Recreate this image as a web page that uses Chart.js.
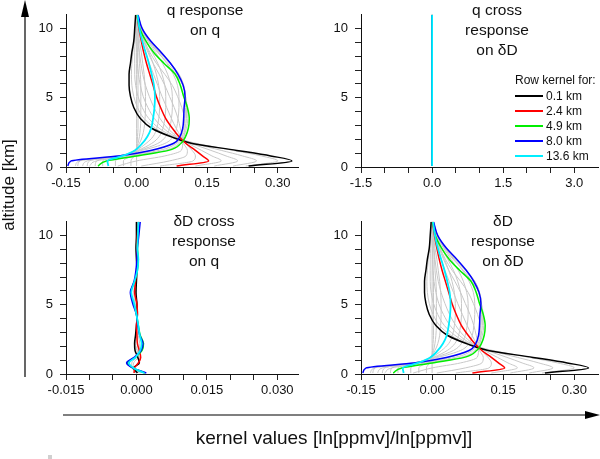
<!DOCTYPE html>
<html>
<head>
<meta charset="utf-8">
<script src="https://cdn.jsdelivr.net/npm/chart.js@4"></script>
<style>
  body { margin: 0; background: #fff; font-family: "Liberation Sans", Arial, sans-serif; }
  #page { position: relative; width: 600px; height: 459px; overflow: hidden; }
  canvas { position: absolute; }
  .title { position: absolute; width: 140px; text-align: center; font-size: 15.5px; line-height: 20px; color: #111; }
  .leg { position: absolute; font-size: 12px; line-height: 14px; color: #111; white-space: nowrap; }
  .legline { position: absolute; width: 28px; }
</style>
</head>
<body>
<div id="page">
  <canvas id="c1" width="294" height="197" style="left:6px;top:0px"></canvas>
  <canvas id="c2" width="299" height="197" style="left:301px;top:0px"></canvas>
  <canvas id="c3" width="294" height="197" style="left:6px;top:207px"></canvas>
  <canvas id="c4" width="299" height="197" style="left:301px;top:207px"></canvas>

  <div class="title" style="left:135px;top:0px">q response<br>on q</div>
  <div class="title" style="left:427px;top:0px">q cross<br>response<br>on δD</div>
  <div class="title" style="left:134px;top:211px">δD cross<br>response<br>on q</div>
  <div class="title" style="left:433px;top:211px">δD<br>response<br>on δD</div>

  <div id="legend"></div>

  <svg width="600" height="459" style="position:absolute;left:0;top:0">
    <line x1="25" y1="377" x2="25" y2="14" stroke="#000" stroke-width="1.2"/>
    <polygon points="25,0 21,17 29,17" fill="#000"/>
    <line x1="63" y1="415" x2="588" y2="415" stroke="#000" stroke-width="1.2"/>
    <polygon points="600,415 585,411 585,419" fill="#000"/>
    <rect x="48" y="455" width="4" height="4" fill="#d0d0d0"/>
  </svg>
  <div style="position:absolute;left:9px;top:185px;transform:translate(-50%,-50%) rotate(-90deg);font-size:17px;white-space:nowrap;color:#111">altitude [km]</div>
  <div style="position:absolute;left:334px;top:438px;transform:translate(-50%,-50%);font-size:19px;white-space:nowrap;color:#111">kernel values [ln[ppmv]/ln[ppmv]]</div>
</div>

<script>
// altitude levels [km] the kernel rows are read at
var alt = [0.07, 0.44, 0.8, 1.2, 1.7, 2.2, 2.8, 3.5, 4.3, 5.1, 5.9, 6.7, 7.5, 8.3, 9.1, 10.0, 11.0];

// highlighted row kernels, q response on q
var kQ01  = [0.238, 0.330, 0.285, 0.213, 0.118, 0.072, 0.032, 0.008, -0.006, -0.013, -0.016, -0.016, -0.013, -0.010, -0.006, -0.004, -0.002];
var kQ24  = [0.085, 0.153, 0.140, 0.125, 0.105, 0.090, 0.076, 0.062, 0.051, 0.042, 0.035, 0.028, 0.021, 0.015, 0.010, 0.005, 0.001];
var kQ49  = [-0.082, -0.064, 0.000, 0.068, 0.094, 0.104, 0.110, 0.112, 0.108, 0.100, 0.093, 0.082, 0.058, 0.036, 0.020, 0.007, 0.001];
var kQ80  = [-0.146, -0.139, -0.038, 0.030, 0.078, 0.092, 0.098, 0.100, 0.101, 0.103, 0.099, 0.088, 0.072, 0.052, 0.030, 0.012, 0.003];
var kQ136 = [-0.060, -0.062, -0.030, -0.004, 0.012, 0.023, 0.031, 0.035, 0.038, 0.039, 0.037, 0.032, 0.026, 0.019, 0.012, 0.006, 0.002];

// the other (grey) rows
var kQgray = [
  [0.232, 0.300, 0.265, 0.205, 0.128, 0.074, 0.040, 0.016, 0.002, -0.006, -0.010, -0.011, -0.010, -0.008, -0.005, -0.003, -0.001],
  [0.205, 0.255, 0.225, 0.180, 0.122, 0.078, 0.048, 0.026, 0.012, 0.003, -0.002, -0.004, -0.004, -0.004, -0.003, -0.002, 0.000],
  [0.165, 0.215, 0.190, 0.158, 0.116, 0.082, 0.057, 0.038, 0.024, 0.014, 0.008, 0.004, 0.002, 0.001, 0.001, 0.000, 0.000],
  [0.125, 0.180, 0.160, 0.138, 0.110, 0.086, 0.066, 0.050, 0.037, 0.027, 0.019, 0.013, 0.009, 0.006, 0.004, 0.002, 0.000],
  [0.050, 0.120, 0.125, 0.118, 0.104, 0.094, 0.084, 0.074, 0.064, 0.054, 0.045, 0.036, 0.027, 0.019, 0.012, 0.006, 0.001],
  [0.010, 0.070, 0.105, 0.108, 0.100, 0.097, 0.093, 0.088, 0.080, 0.070, 0.060, 0.048, 0.035, 0.024, 0.015, 0.007, 0.001],
  [-0.040, 0.000, 0.060, 0.095, 0.098, 0.101, 0.103, 0.102, 0.096, 0.087, 0.076, 0.060, 0.042, 0.028, 0.017, 0.007, 0.001],
  [-0.100, -0.085, -0.015, 0.060, 0.090, 0.100, 0.106, 0.109, 0.108, 0.104, 0.098, 0.084, 0.066, 0.044, 0.026, 0.010, 0.002],
  [-0.115, -0.105, -0.025, 0.048, 0.085, 0.097, 0.103, 0.106, 0.106, 0.104, 0.100, 0.090, 0.070, 0.048, 0.028, 0.011, 0.002],
  [-0.130, -0.122, -0.032, 0.035, 0.080, 0.094, 0.100, 0.103, 0.104, 0.104, 0.100, 0.090, 0.072, 0.050, 0.029, 0.012, 0.003],
  [-0.125, -0.120, -0.040, 0.012, 0.060, 0.078, 0.085, 0.088, 0.090, 0.090, 0.087, 0.078, 0.064, 0.046, 0.027, 0.011, 0.003],
  [-0.105, -0.100, -0.038, 0.006, 0.045, 0.062, 0.070, 0.074, 0.076, 0.076, 0.073, 0.066, 0.055, 0.040, 0.024, 0.010, 0.003],
  [-0.088, -0.085, -0.036, 0.002, 0.032, 0.048, 0.056, 0.060, 0.062, 0.062, 0.060, 0.054, 0.045, 0.033, 0.020, 0.009, 0.002],
  [-0.072, -0.072, -0.033, -0.002, 0.020, 0.035, 0.043, 0.047, 0.049, 0.049, 0.047, 0.042, 0.035, 0.026, 0.016, 0.007, 0.002],
  [-0.045, -0.045, -0.020, -0.004, 0.006, 0.012, 0.016, 0.018, 0.019, 0.019, 0.018, 0.016, 0.013, 0.010, 0.006, 0.003, 0.001],
  [-0.028, -0.028, -0.012, -0.002, 0.003, 0.006, 0.008, 0.009, 0.009, 0.009, 0.009, 0.008, 0.006, 0.005, 0.003, 0.001, 0.000],
  [-0.012, -0.012, -0.005, -0.001, 0.001, 0.002, 0.003, 0.003, 0.003, 0.003, 0.003, 0.003, 0.002, 0.002, 0.001, 0.000, 0.000],
  [0.000, 0.000, 0.000, 0.000, 0.000, 0.000, 0.000, 0.000, 0.000, 0.000, 0.000, 0.000, 0.000, 0.000, 0.000, 0.000, 0.000]
];

// q cross response on dD: every row sits on zero
var kQDzero = [0, 0, 0, 0, 0, 0, 0, 0, 0, 0, 0, 0, 0, 0, 0, 0, 0];

// dD cross response on q
var kDQ01  = [0.0002, -0.0006, 0.0006, 0.0003, -0.0003, -0.0004, -0.0002, 0.0000, 0.0002, 0.0001, -0.0001, 0.0000, 0.0001, 0.0000, -0.0001, 0.0000, 0.0000];
var kDQ24  = [-0.0005, -0.0004, 0.0004, 0.0009, 0.0006, 0.0002, 0.0001, 0.0000, 0.0002, 0.0001, -0.0004, -0.0002, 0.0000, 0.0002, 0.0001, 0.0002, 0.0004];
var kDQ49  = [0.0018, -0.0008, -0.0019, -0.0003, 0.0012, 0.0015, 0.0008, 0.0004, 0.0000, -0.0006, -0.0012, -0.0004, 0.0002, 0.0004, 0.0002, 0.0004, 0.0005];
var kDQ80  = [0.0021, -0.0008, -0.0021, -0.0005, 0.0010, 0.0014, 0.0007, 0.0003, 0.0000, -0.0008, -0.0013, -0.0005, -0.0001, 0.0001, 0.0002, 0.0005, 0.0008];
var kDQ136 = [0.0017, -0.0006, -0.0016, -0.0002, 0.0008, 0.0011, 0.0007, 0.0004, 0.0000, -0.0005, -0.0011, -0.0004, 0.0002, 0.0004, 0.0002, 0.0003, 0.0004];
var kDQgray = [
  [0.0003, -0.0004, 0.0004, 0.0005, 0.0002, -0.0002, -0.0002, 0.0000, 0.0001, 0.0000, -0.0001, 0.0000, 0.0000, 0.0000, 0.0000, 0.0000, 0.0000],
  [-0.0002, -0.0005, 0.0007, 0.0006, 0.0001, -0.0003, -0.0001, 0.0001, 0.0001, 0.0001, 0.0000, 0.0000, 0.0000, 0.0000, 0.0000, 0.0000, 0.0000],
  [0.0006, -0.0007, -0.0006, 0.0003, 0.0004, 0.0003, 0.0002, 0.0001, 0.0000, -0.0002, -0.0003, -0.0001, 0.0000, 0.0001, 0.0000, 0.0001, 0.0002],
  [0.0010, -0.0010, -0.0010, 0.0001, 0.0006, 0.0007, 0.0004, 0.0002, 0.0000, -0.0003, -0.0006, -0.0002, 0.0001, 0.0002, 0.0001, 0.0002, 0.0003]
];

// dD response on dD reads the same as the q panel
var kDD01 = kQ01, kDD24 = kQ24, kDD49 = kQ49, kDD80 = kQ80, kDD136 = kQ136, kDDgray = kQgray;

var rowLabels = ["0.1 km", "2.4 km", "4.9 km", "8.0 km", "13.6 km"];
var rowColors = ["#000000", "#ff0000", "#00ee00", "#0000ff", "#00eeff"];

// axis ticks (majors carry a label)
var altTicks = [0, 1, 2, 3, 4, 5, 6, 7, 8, 9, 10];
var altMajor = [0, 5, 10];
var qTicks = [-0.15, -0.10, -0.05, 0, 0.05, 0.10, 0.15, 0.20, 0.25, 0.30];
var qMajor = [-0.15, 0, 0.15, 0.30];
var crossTicks = [-1.5, -1.0, -0.5, 0, 0.5, 1.0, 1.5, 2.0, 2.5, 3.0];
var crossMajor = [-1.5, 0, 1.5, 3.0];
var smallTicks = [-0.015, -0.010, -0.005, 0, 0.005, 0.010, 0.015, 0.020, 0.025, 0.030];
var smallMajor = [-0.015, 0, 0.015, 0.030];

function pts(row) {
  return row.map(function (v, i) { return { x: v, y: alt[i] }; });
}

function isMajor(v, list) {
  for (var i = 0; i < list.length; i++) {
    if (Math.abs(v - list[i]) < 1e-9) return true;
  }
  return false;
}

function makePanel(id, colored, grays, xmin, xmax, xTicks, xMajor, digits) {
  var datasets = [];
  // first dataset ends up on top, so colours go first, cyan last in legend but top-most
  for (var c = colored.length - 1; c >= 0; c--) {
    datasets.push({
      data: pts(colored[c]),
      borderColor: rowColors[c],
      borderWidth: c == 4 ? 1.8 : 1.5
    });
  }
  for (var g = 0; g < grays.length; g++) {
    datasets.push({ data: pts(grays[g]), borderColor: "#c8c8c8", borderWidth: 1 });
  }

  var tickFont = { family: "Liberation Sans", size: 13 };

  new Chart(document.getElementById(id), {
    type: "line",
    data: { datasets: datasets },
    options: {
      indexAxis: "y",
      responsive: false,
      animation: false,
      events: [],
      layout: { padding: { top: 1, right: 2, left: 0, bottom: 0 } },
      elements: {
        point: { radius: 0 },
        line: { cubicInterpolationMode: "monotone", fill: false }
      },
      plugins: { legend: { display: false }, tooltip: { enabled: false } },
      scales: {
        x: {
          type: "linear",
          min: xmin,
          max: xmax,
          afterFit: function (s) { s.height = 30; },
          afterBuildTicks: function (s) {
            s.ticks = xTicks.map(function (v) { return { value: v }; });
          },
          ticks: {
            autoSkip: false,
            maxRotation: 0,
            padding: 3,
            color: "#111",
            font: tickFont,
            callback: function (v) { return isMajor(v, xMajor) ? v.toFixed(digits) : ""; }
          },
          grid: { drawOnChartArea: false, tickLength: 6, color: "#222" },
          border: { color: "#111", width: 1 }
        },
        y: {
          type: "linear",
          min: 0,
          max: 11,
          afterFit: function (s) { s.width = 60; },
          afterBuildTicks: function (s) {
            s.ticks = altTicks.map(function (v) { return { value: v }; });
          },
          ticks: {
            autoSkip: false,
            padding: 7,
            color: "#111",
            font: tickFont,
            callback: function (v) { return isMajor(v, altMajor) ? String(v) : ""; }
          },
          grid: { drawOnChartArea: false, tickLength: 6, color: "#222" },
          border: { color: "#111", width: 1 }
        }
      }
    }
  });
}

makePanel("c1", [kQ01, kQ24, kQ49, kQ80, kQ136], kQgray, -0.15, 0.343, qTicks, qMajor, 2);
makePanel("c2", [kQDzero, kQDzero, kQDzero, kQDzero, kQDzero], [kQDzero], -1.5, 3.5, crossTicks, crossMajor, 1);
makePanel("c3", [kDQ01, kDQ24, kDQ49, kDQ80, kDQ136], kDQgray, -0.015, 0.0344, smallTicks, smallMajor, 3);
makePanel("c4", [kDD01, kDD24, kDD49, kDD80, kDD136], kDDgray, -0.15, 0.35, qTicks, qMajor, 2);

// legend in the q cross panel
var leg = document.getElementById("legend");
var head = document.createElement("div");
head.className = "leg";
head.style.left = "515px";
head.style.top = "73px";
head.textContent = "Row kernel for:";
leg.appendChild(head);
var legY = [96, 111, 126, 141, 156];
for (var i = 0; i < rowLabels.length; i++) {
  var ln = document.createElement("div");
  ln.className = "legline";
  var w = i == 4 ? 2.5 : 1.5;
  ln.style.left = "515px";
  ln.style.top = (legY[i] - w / 2) + "px";
  ln.style.height = w + "px";
  ln.style.background = rowColors[i];
  leg.appendChild(ln);
  var tx = document.createElement("div");
  tx.className = "leg";
  tx.style.left = "546px";
  tx.style.top = (legY[i] - 7) + "px";
  tx.textContent = rowLabels[i];
  leg.appendChild(tx);
}
</script>
</body>
</html>
